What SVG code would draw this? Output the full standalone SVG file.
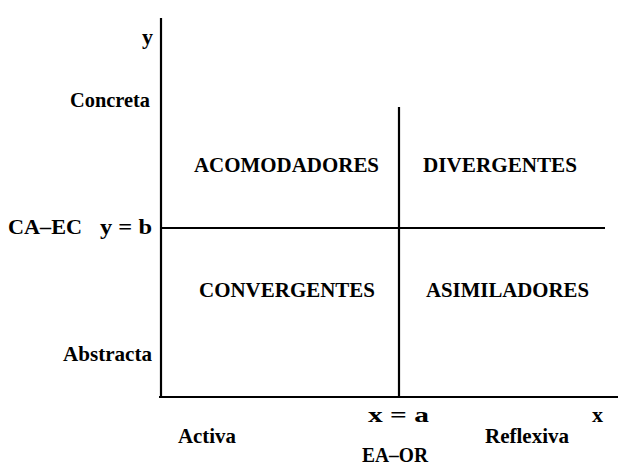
<svg xmlns="http://www.w3.org/2000/svg" width="625" height="466" viewBox="0 0 625 466">
<style>
text{font-family:"Liberation Serif","Times New Roman",serif;font-weight:bold;font-size:22px;fill:#000}
.ln{stroke:#000;stroke-width:2.2;fill:none}
</style>
<rect width="625" height="466" fill="#fff"/>
<g id="connectors">
<line class="ln" x1="161" y1="18" x2="161" y2="398"/>
<line class="ln" x1="159" y1="397" x2="618" y2="397"/>
<line class="ln" x1="161" y1="228" x2="605" y2="228"/>
<line class="ln" x1="399" y1="107" x2="399" y2="397"/>
</g>
<g id="label-y"><text x="142" y="44">y</text></g>
<g id="label-concreta"><text x="70" y="107" textLength="80" lengthAdjust="spacingAndGlyphs">Concreta</text></g>
<g id="label-caec"><text x="8" y="234" textLength="74" lengthAdjust="spacingAndGlyphs">CA–EC</text><text x="100" y="234" textLength="52" lengthAdjust="spacingAndGlyphs">y = b</text></g>
<g id="label-abstracta"><text x="63" y="361" textLength="89" lengthAdjust="spacingAndGlyphs">Abstracta</text></g>
<g id="node-acomodadores"><text x="194" y="172" textLength="185" lengthAdjust="spacingAndGlyphs">ACOMODADORES</text></g>
<g id="node-divergentes"><text x="423" y="172" textLength="154" lengthAdjust="spacingAndGlyphs">DIVERGENTES</text></g>
<g id="node-convergentes"><text x="199" y="297" textLength="176" lengthAdjust="spacingAndGlyphs">CONVERGENTES</text></g>
<g id="node-asimiladores"><text x="426" y="297" textLength="163" lengthAdjust="spacingAndGlyphs">ASIMILADORES</text></g>
<g id="label-xa"><text x="368" y="422" textLength="61" lengthAdjust="spacingAndGlyphs">x = a</text></g>
<g id="label-x"><text x="592" y="422" textLength="11" lengthAdjust="spacingAndGlyphs">x</text></g>
<g id="label-activa"><text x="178" y="443" textLength="58" lengthAdjust="spacingAndGlyphs">Activa</text></g>
<g id="label-reflexiva"><text x="485" y="443" textLength="84" lengthAdjust="spacingAndGlyphs">Reflexiva</text></g>
<g id="label-eaor"><text x="362" y="462" textLength="66" lengthAdjust="spacingAndGlyphs">EA–OR</text></g>
</svg>
